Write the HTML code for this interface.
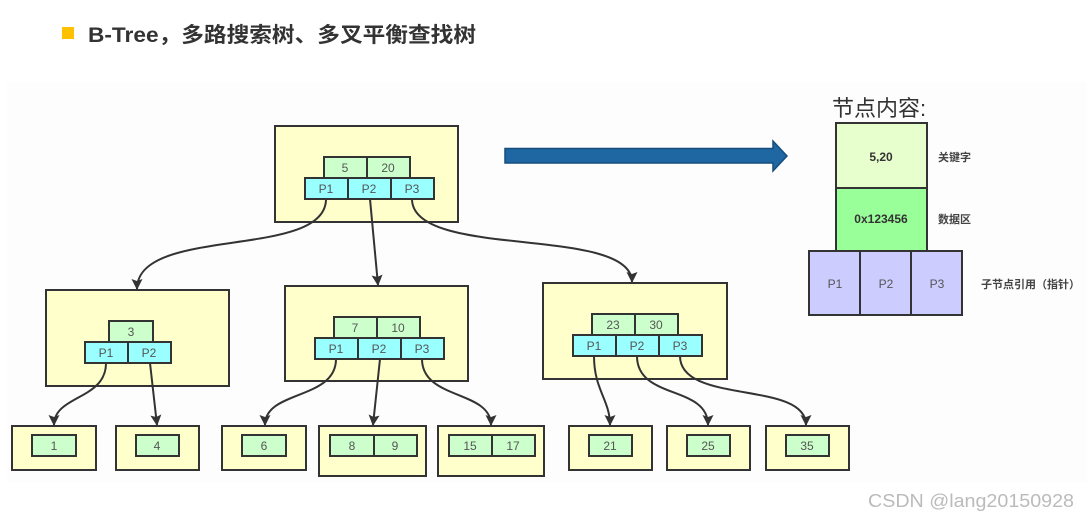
<!DOCTYPE html>
<html><head><meta charset="utf-8"><style>
html,body{margin:0;padding:0;background:#fff;}
svg{display:block;}
</style></head><body>
<svg width="1090" height="521" viewBox="0 0 1090 521" xmlns="http://www.w3.org/2000/svg" font-family="Liberation Sans, Noto Sans CJK SC, sans-serif">
<defs>
<marker id="ah" markerWidth="12" markerHeight="12" refX="10" refY="6" orient="auto" markerUnits="userSpaceOnUse">
<path d="M0,0.5 L11,6 L0,11.5 L2,6 Z" fill="#333"/>
</marker>
</defs>
<rect x="7" y="82" width="1080" height="400" fill="#fdfdfd"/>
<!-- title -->
<rect x="62" y="27" width="12" height="12" fill="#ffc000"/>
<text x="88" y="42" font-size="21" font-weight="bold" fill="#333" textLength="388" lengthAdjust="spacingAndGlyphs">B-Tree，多路搜索树、多叉平衡查找树</text>

<g stroke="#333" stroke-width="2">
<rect x="275" y="126" width="183" height="96" fill="#ffffcc"/>
<rect x="324" y="157" width="43" height="21" fill="#ccffcc"/><rect x="367" y="157" width="43" height="21" fill="#ccffcc"/>
<rect x="305" y="178" width="43" height="21" fill="#99ffff"/><rect x="348" y="178" width="43" height="21" fill="#99ffff"/><rect x="391" y="178" width="43" height="21" fill="#99ffff"/>
<rect x="46" y="290" width="183" height="96" fill="#ffffcc"/>
<rect x="109" y="321" width="44" height="21" fill="#ccffcc"/>
<rect x="85" y="342" width="43" height="21" fill="#99ffff"/><rect x="128" y="342" width="43" height="21" fill="#99ffff"/>
<rect x="285" y="286" width="183" height="95" fill="#ffffcc"/>
<rect x="334" y="317" width="43" height="21" fill="#ccffcc"/><rect x="377" y="317" width="43" height="21" fill="#ccffcc"/>
<rect x="315" y="338" width="43" height="21" fill="#99ffff"/><rect x="358" y="338" width="43" height="21" fill="#99ffff"/><rect x="401" y="338" width="43" height="21" fill="#99ffff"/>
<rect x="543" y="283" width="184" height="96" fill="#ffffcc"/>
<rect x="592" y="314" width="43" height="21" fill="#ccffcc"/><rect x="635" y="314" width="43" height="21" fill="#ccffcc"/>
<rect x="573" y="335" width="43" height="21" fill="#99ffff"/><rect x="616" y="335" width="43" height="21" fill="#99ffff"/><rect x="659" y="335" width="43" height="21" fill="#99ffff"/>
<rect x="12" y="426" width="84" height="44" fill="#ffffcc"/><rect x="32" y="435" width="44" height="21" fill="#ccffcc"/>
<rect x="116" y="426" width="83" height="44" fill="#ffffcc"/><rect x="136" y="435" width="43" height="21" fill="#ccffcc"/>
<rect x="222" y="426" width="84" height="44" fill="#ffffcc"/><rect x="242" y="435" width="44" height="21" fill="#ccffcc"/>
<rect x="319" y="426" width="107" height="50" fill="#ffffcc"/><rect x="330" y="435" width="44" height="21" fill="#ccffcc"/><rect x="374" y="435" width="43" height="21" fill="#ccffcc"/>
<rect x="438" y="426" width="106" height="50" fill="#ffffcc"/><rect x="449" y="435" width="43" height="21" fill="#ccffcc"/><rect x="492" y="435" width="43" height="21" fill="#ccffcc"/>
<rect x="569" y="426" width="83" height="44" fill="#ffffcc"/><rect x="589" y="435" width="43" height="21" fill="#ccffcc"/>
<rect x="667" y="426" width="83" height="44" fill="#ffffcc"/><rect x="687" y="435" width="43" height="21" fill="#ccffcc"/>
<rect x="766" y="426" width="83" height="44" fill="#ffffcc"/><rect x="786" y="435" width="43" height="21" fill="#ccffcc"/>
<rect x="836" y="123" width="91" height="65" fill="#e6ffcc"/>
<rect x="836" y="188" width="91" height="63" fill="#99ff99"/>
<rect x="809" y="251" width="51" height="64" fill="#ccccff"/><rect x="860" y="251" width="51" height="64" fill="#ccccff"/><rect x="911" y="251" width="51" height="64" fill="#ccccff"/>
</g>

<g fill="none" stroke="#333" stroke-width="2" marker-end="url(#ah)">
<path d="M326,199 C326,260 137,225 137,289"/>
<path d="M370,199 L378,285"/>
<path d="M412,199 C412,260 632,225 632,282"/>
<path d="M106,363 C106,400 54,395 54,425"/>
<path d="M150,363 L157,425"/>
<path d="M336,359 C336,400 265,390 265,425"/>
<path d="M380,359 L373,425"/>
<path d="M422,359 C422,400 491,390 491,425"/>
<path d="M594,356 C594,390 610,400 610,425"/>
<path d="M637,356 C637,400 708,385 708,425"/>
<path d="M680,356 C680,405 806,380 806,425"/>
</g>

<path d="M505,148.5 L773,148.5 L773,141 L787,156 L773,171 L773,163 L505,163 Z" fill="#1f67a3" stroke="#164d7c" stroke-width="1.5"/>

<g font-size="12" fill="#555" text-anchor="middle">
<text x="345" y="172">5</text><text x="388" y="172">20</text>
<text x="326" y="193">P1</text><text x="369" y="193">P2</text><text x="412" y="193">P3</text>
<text x="131" y="336">3</text>
<text x="106" y="357">P1</text><text x="149" y="357">P2</text>
<text x="355" y="332">7</text><text x="398" y="332">10</text>
<text x="336" y="353">P1</text><text x="379" y="353">P2</text><text x="422" y="353">P3</text>
<text x="613" y="329">23</text><text x="656" y="329">30</text>
<text x="594" y="350">P1</text><text x="637" y="350">P2</text><text x="680" y="350">P3</text>
<text x="54" y="450">1</text><text x="157" y="450">4</text><text x="264" y="450">6</text>
<text x="352" y="450">8</text><text x="395" y="450">9</text>
<text x="470" y="450">15</text><text x="513" y="450">17</text>
<text x="610" y="450">21</text><text x="708" y="450">25</text><text x="807" y="450">35</text>
<text x="835" y="288">P1</text><text x="886" y="288">P2</text><text x="937" y="288">P3</text>
<text x="881" y="161" font-weight="bold" fill="#333">5,20</text>
<text x="881" y="223" font-weight="bold" fill="#333">0x123456</text>
</g>
<g font-size="11" fill="#444" font-weight="bold">
<text x="938" y="161">关键字</text>
<text x="938" y="223">数据区</text>
<text x="981" y="288">子节点引用（指针）</text>
</g>
<text x="832" y="116" font-size="22" fill="#333">节点内容:</text>
<text x="868" y="507" font-size="18" fill="#bbb" textLength="206" lengthAdjust="spacingAndGlyphs">CSDN @lang20150928</text>
</svg>
</body></html>
